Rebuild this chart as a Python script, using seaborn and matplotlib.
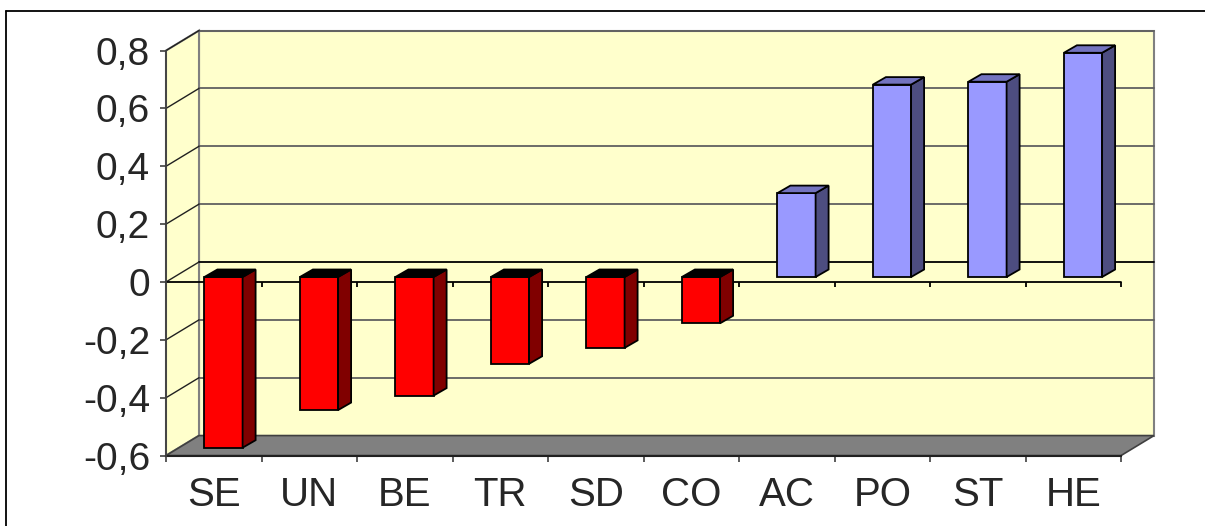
import matplotlib
matplotlib.use("Agg")
import matplotlib.pyplot as plt
from matplotlib.patches import Polygon
from matplotlib.lines import Line2D
import pandas as pd
import seaborn as sns

# values
categories = ["SE", "UN", "BE", "TR", "SD", "CO", "AC", "PO", "ST", "HE"]
values = [-0.59, -0.46, -0.41, -0.30, -0.245, -0.16, 0.29, 0.665, 0.675, 0.775]
ytick_values = [-0.6, -0.4, -0.2, 0.0, 0.2, 0.4, 0.6, 0.8]
ytick_labels = ["-0,6", "-0,4", "-0,2", "0", "0,2", "0,4", "0,6", "0,8"]

df = pd.DataFrame({"cat": categories, "val": values})

sns.set_style("white")
plt.rcParams["font.family"] = ["Liberation Sans", "DejaVu Sans"]

W, H = 1205, 526
fig = plt.figure(figsize=(W / 100, H / 100), dpi=100)
ax = fig.add_axes([0, 0, 1, 1])

# pixel -> data mapping for the plane the bars stand in
X0, XS = 223.5, 95.5
Y0, YS = 277.0, 289.3

# 3d geometry (data units)
FRONT_DY = -5.0 / YS
BACK_DY = 15.0 / YS
FX0 = (166 - X0) / XS
FX1 = FX0 + len(categories)
BX0 = (199 - X0) / XS
BX1 = BX0 + len(categories)
BAR_DX, BAR_DY = 13.0 / XS, 7.5 / YS

def front(v):
    return v + FRONT_DY

def back(v):
    return v + BACK_DY

yellow = "#FFFFCC"
vmin, vmax = ytick_values[0], ytick_values[-1]

# back wall, side wall and floor
ax.add_patch(Polygon([(BX0, back(vmin)), (BX1, back(vmin)), (BX1, back(vmax)), (BX0, back(vmax))],
                     closed=True, facecolor=yellow, edgecolor="#808080", lw=1.5, zorder=0))
ax.add_patch(Polygon([(FX0, front(vmin)), (BX0, back(vmin)), (BX0, back(vmax)), (FX0, front(vmax))],
                     closed=True, facecolor=yellow, edgecolor="#808080", lw=1.5, zorder=0))

for v in ytick_values[1:]:
    c = "black" if v == 0 else "#606060"
    ax.plot([BX0, BX1], [back(v), back(v)], color=c, lw=1.3, zorder=0.5)
    ax.plot([FX0, BX0], [front(v), back(v)], color="#202020", lw=1.0, zorder=0.5)

ax.add_patch(Polygon([(FX0, front(vmin)), (BX0, back(vmin)), (BX1, back(vmin)), (FX1, front(vmin))],
                     closed=True, facecolor="#808080", edgecolor="#404040", lw=1.2, zorder=0.6))

# category axis line at zero (front)
ax.plot([FX0, FX1], [front(0), front(0)], color="black", lw=1.3, zorder=0.7)
ax.vlines([FX0 + k for k in range(1, len(categories) + 1)], front(0) - 5.0 / YS, front(0),
          color="black", lw=1.3, zorder=0.7)

# bars
palette = ["#FF0000" if v < 0 else "#9999FF" for v in values]
sns.barplot(data=df, x="cat", y="val", hue="cat", palette=palette, legend=False,
            width=0.4, edgecolor="black", linewidth=1.3, saturation=1, ax=ax, zorder=2)

bars = sorted([p for c in ax.containers for p in c], key=lambda r: r.get_x())
for p, v in zip(bars, values):
    x0 = p.get_x()
    x1 = x0 + p.get_width()
    yb = min(p.get_y(), p.get_y() + p.get_height())
    yt = max(p.get_y(), p.get_y() + p.get_height())
    side_c = "#800000" if v < 0 else "#4D4D80"
    top_c = "#000000" if v < 0 else "#7373BF"
    ax.add_patch(Polygon([(x1, yb), (x1 + BAR_DX, yb + BAR_DY), (x1 + BAR_DX, yt + BAR_DY), (x1, yt)],
                         closed=True, facecolor=side_c, edgecolor="black", lw=1.3, zorder=2))
    ax.add_patch(Polygon([(x0, yt), (x0 + BAR_DX, yt + BAR_DY), (x1 + BAR_DX, yt + BAR_DY), (x1, yt)],
                         closed=True, facecolor=top_c, edgecolor="black", lw=1.3, zorder=2))

# limits so that data maps to the pixel layout
ax.set_xlim(-X0 / XS, (W - X0) / XS)
ax.set_ylim((Y0 - H) / YS, Y0 / YS)
ax.patch.set_visible(False)
ax.set_xlabel("")
ax.set_ylabel("")

for s in ["top", "right"]:
    ax.spines[s].set_visible(False)

ax.spines["left"].set_position(("data", FX0))
ax.spines["left"].set_bounds(front(vmin), front(vmax))
ax.spines["left"].set_color("#404040")
ax.spines["left"].set_linewidth(1.3)
ax.spines["bottom"].set_position(("data", front(vmin)))
ax.spines["bottom"].set_bounds(FX0, FX1)
ax.spines["bottom"].set_color("#202020")
ax.spines["bottom"].set_linewidth(1.5)
ax.spines["bottom"].set_zorder(0.8)

ax.set_yticks([front(v) for v in ytick_values])
ax.set_yticklabels(ytick_labels, fontsize=28)
ax.tick_params(axis="y", direction="out", length=4.5, width=1.2, color="#404040", pad=7, left=True)

ax.set_xticks([FX0 + 0.5 + i for i in range(len(categories))])
ax.set_xticklabels(categories, fontsize=29)
ax.set_xticks([FX0 + k for k in range(len(categories) + 1)], minor=True)
ax.tick_params(axis="x", which="major", length=0, pad=15, bottom=True)
ax.tick_params(axis="x", which="minor", direction="out", length=4.5, width=1.2, color="#404040", bottom=True)

# outer chart frame (runs off the right and bottom edges)
fig.add_artist(Line2D([6 / W, 6 / W], [0, 1 - 11 / H], color="black", lw=1.3))
fig.add_artist(Line2D([6 / W, 1], [1 - 11 / H, 1 - 11 / H], color="black", lw=1.3))

fig.savefig("out.png", dpi=100)
